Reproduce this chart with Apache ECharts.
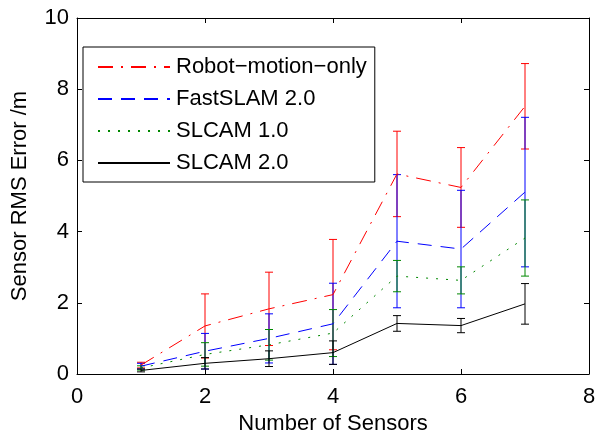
<!DOCTYPE html>
<html>
<head>
<meta charset="utf-8">
<script src="https://cdn.jsdelivr.net/npm/echarts@6/dist/echarts.min.js"></script>
<style>
  html, body { margin: 0; padding: 0; background: #fff; }
  #chart { width: 597px; height: 432px; }
</style>
</head>
<body>
<div id="chart"></div>
<script>
const SENSORS = [1, 2, 3, 4, 5, 6, 7];
const X_TICKS = [0, 2, 4, 6, 8];
const Y_TICKS = [0, 2, 4, 6, 8, 10];

const SERIES_NAMES = ['Robot−motion−only', 'FastSLAM 2.0', 'SLCAM 1.0', 'SLCAM 2.0'];
const ROBOT_MEAN = [0.25, 1.35, 1.83, 2.23, 5.62, 5.24, 7.52];
const ROBOT_ERR = [0.08, 0.90, 1.03, 1.55, 1.20, 1.12, 1.20];
const FAST_MEAN = [0.22, 0.64, 1.00, 1.41, 3.73, 3.51, 5.11];
const FAST_ERR = [0.08, 0.50, 0.69, 1.14, 1.87, 1.65, 2.10];
const SLCAM1_MEAN = [0.17, 0.55, 0.82, 1.15, 2.75, 2.63, 3.82];
const SLCAM1_ERR = [0.06, 0.33, 0.43, 0.66, 0.44, 0.38, 1.07];
const SLCAM2_MEAN = [0.10, 0.30, 0.43, 0.60, 1.42, 1.36, 1.97];
const SLCAM2_ERR = [0.04, 0.16, 0.22, 0.33, 0.22, 0.20, 0.57];

const FONT = 'Liberation Sans';
const STYLES = [
  { color: '#ff0000', dash: [15, 8, 2, 8] },
  { color: '#0000ff', dash: [14, 9] },
  { color: '#008800', dash: [2, 8] },
  { color: '#000000', dash: 'solid' }
];
const MEANS = [ROBOT_MEAN, FAST_MEAN, SLCAM1_MEAN, SLCAM2_MEAN];
const ERRS = [ROBOT_ERR, FAST_ERR, SLCAM1_ERR, SLCAM2_ERR];

function errorBarItem(color) {
  return function(params, api) {
    const top = api.coord([api.value(0), api.value(2)]);
    const bot = api.coord([api.value(0), api.value(1)]);
    const cap = 4;
    const style = { stroke: color, lineWidth: 1 };
    return {
      type: 'group',
      children: [
        { type: 'line', shape: { x1: top[0], y1: top[1], x2: bot[0], y2: bot[1] }, style: style },
        { type: 'line', shape: { x1: top[0] - cap, y1: top[1], x2: top[0] + cap, y2: top[1] }, style: style },
        { type: 'line', shape: { x1: bot[0] - cap, y1: bot[1], x2: bot[0] + cap, y2: bot[1] }, style: style }
      ]
    };
  };
}

const series = [];
SERIES_NAMES.forEach((name, i) => {
  series.push({
    name: name + ' err',
    type: 'custom',
    xAxisIndex: 0,
    yAxisIndex: 0,
    renderItem: errorBarItem(STYLES[i].color),
    data: SENSORS.map((x, k) => [x, MEANS[i][k] - ERRS[i][k], MEANS[i][k] + ERRS[i][k]]),
    silent: true,
    z: 3
  });
  series.push({
    name: name,
    type: 'line',
    xAxisIndex: 0,
    yAxisIndex: 0,
    data: SENSORS.map((x, k) => [x, MEANS[i][k]]),
    symbol: 'none',
    lineStyle: { color: STYLES[i].color, width: 1, type: STYLES[i].dash },
    itemStyle: { color: STYLES[i].color },
    animation: false,
    z: 4
  });
});

const axisCommon = {
  type: 'value',
  axisLine: { show: true, onZero: false, lineStyle: { color: '#000', width: 1 } },
  axisTick: { show: true, inside: true, length: 5, lineStyle: { color: '#000' } },
  splitLine: { show: false },
  axisLabel: { color: '#000', fontSize: 22, fontFamily: FONT, margin: 8 }
};

const chart = echarts.init(document.getElementById('chart'), null, { renderer: 'canvas' });
chart.setOption({
  animation: false,
  backgroundColor: '#fff',
  grid: { left: 77, right: 8, top: 18, bottom: 58, containLabel: false, outerBoundsMode: 'none' },
  xAxis: [
    Object.assign({}, axisCommon, {
      position: 'bottom', min: X_TICKS[0], max: X_TICKS[X_TICKS.length - 1], interval: 2,
      axisLabel: { color: '#000', fontSize: 22, fontFamily: FONT, margin: 12 },
      name: 'Number of Sensors', nameLocation: 'middle', nameGap: 36,
      nameTextStyle: { color: '#000', fontSize: 22, fontFamily: FONT }
    }),
    Object.assign({}, axisCommon, {
      position: 'top', min: X_TICKS[0], max: X_TICKS[X_TICKS.length - 1], interval: 2,
      axisLabel: { show: false }
    })
  ],
  yAxis: [
    Object.assign({}, axisCommon, {
      position: 'left', min: Y_TICKS[0], max: Y_TICKS[Y_TICKS.length - 1], interval: 2,
      name: 'Sensor RMS Error /m', nameLocation: 'middle', nameGap: 46,
      nameTextStyle: { color: '#000', fontSize: 22, fontFamily: FONT }
    }),
    Object.assign({}, axisCommon, {
      position: 'right', min: Y_TICKS[0], max: Y_TICKS[Y_TICKS.length - 1], interval: 2,
      axisLabel: { show: false }
    })
  ],
  legend: {
    data: SERIES_NAMES,
    orient: 'vertical',
    left: 83,
    top: 47,
    padding: [9, 8, 8, 14],
    itemWidth: 72,
    itemHeight: 14,
    itemGap: 10,
    borderColor: '#000',
    borderWidth: 1,
    backgroundColor: '#fff',
    selectedMode: false,
    itemStyle: { opacity: 0 },
    textStyle: { color: '#000', fontSize: 22, fontFamily: FONT, lineHeight: 22, padding: [0, 0, 0, 1] }
  },
  series: series
});
</script>
</body>
</html>
